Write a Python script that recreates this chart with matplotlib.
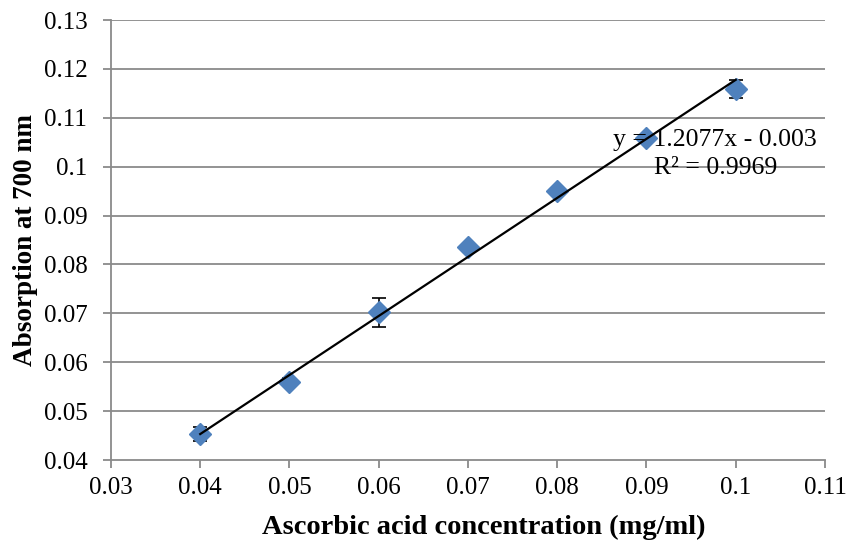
import numpy as np
import matplotlib.pyplot as plt

plt.rcParams['font.family'] = ['Liberation Serif', 'DejaVu Serif']

# data
conc = [0.04, 0.05, 0.06, 0.07, 0.08, 0.09, 0.10]
absorb = [0.0453, 0.0559, 0.0702, 0.0836, 0.0950, 0.1059, 0.1159]
err = [0.0015, 0.0008, 0.0030, 0.0005, 0.0005, 0.0005, 0.0018]
slope, intercept = 1.2077, -0.003
r2 = 0.9969

xticks = [0.03, 0.04, 0.05, 0.06, 0.07, 0.08, 0.09, 0.1, 0.11]
yticks = [0.04, 0.05, 0.06, 0.07, 0.08, 0.09, 0.1, 0.11, 0.12, 0.13]

fig = plt.figure(figsize=(8.49, 5.44), dpi=100)
ax = fig.add_axes([0.1307, 0.1544, 0.841, 0.8088])

grey = '#8a8a8a'
for y in yticks[1:]:
    ax.axhline(y, color=grey, lw=1.3, zorder=0)

ax.errorbar(conc, absorb, yerr=err, fmt='none', ecolor='black', elinewidth=1.2,
            capsize=5, capthick=1.2, zorder=2)
ax.plot(conc, absorb, 'D', color='#4F81BD', markersize=11, zorder=3)

xfit = np.array([conc[0], conc[-1]])
ax.plot(xfit, slope * xfit + intercept, color='black', lw=1.6, zorder=4)

ax.text(0.0977, 0.1026, f"y = {slope}x - {abs(intercept)}\nR² = {r2}",
        ha='center', va='center', fontsize=18.5, linespacing=1.35, zorder=5)

ax.set_xlim(0.03, 0.11)
ax.set_ylim(0.04, 0.13)
ax.set_xticks(xticks)
ax.set_xticklabels(['0.03', '0.04', '0.05', '0.06', '0.07', '0.08', '0.09', '0.1', '0.11'])
ax.set_yticks(yticks)
ax.set_yticklabels(['0.04', '0.05', '0.06', '0.07', '0.08', '0.09', '0.1', '0.11', '0.12', '0.13'])

for s in ['top', 'right']:
    ax.spines[s].set_visible(False)
for s in ['left', 'bottom']:
    ax.spines[s].set_color(grey)
    ax.spines[s].set_linewidth(1.3)
ax.tick_params(direction='out', length=6, width=1.3, color=grey, labelsize=18)
ax.tick_params(axis='x', pad=6)
ax.tick_params(axis='y', pad=11)

ax.set_xlabel('Ascorbic acid concentration (mg/ml)', fontsize=20.5, fontweight='bold')
ax.xaxis.set_label_coords(0.522, -0.125)
ax.set_ylabel('Absorption at 700 nm', fontsize=19.5, fontweight='bold', labelpad=4)

fig.savefig('out.png', dpi=100)
